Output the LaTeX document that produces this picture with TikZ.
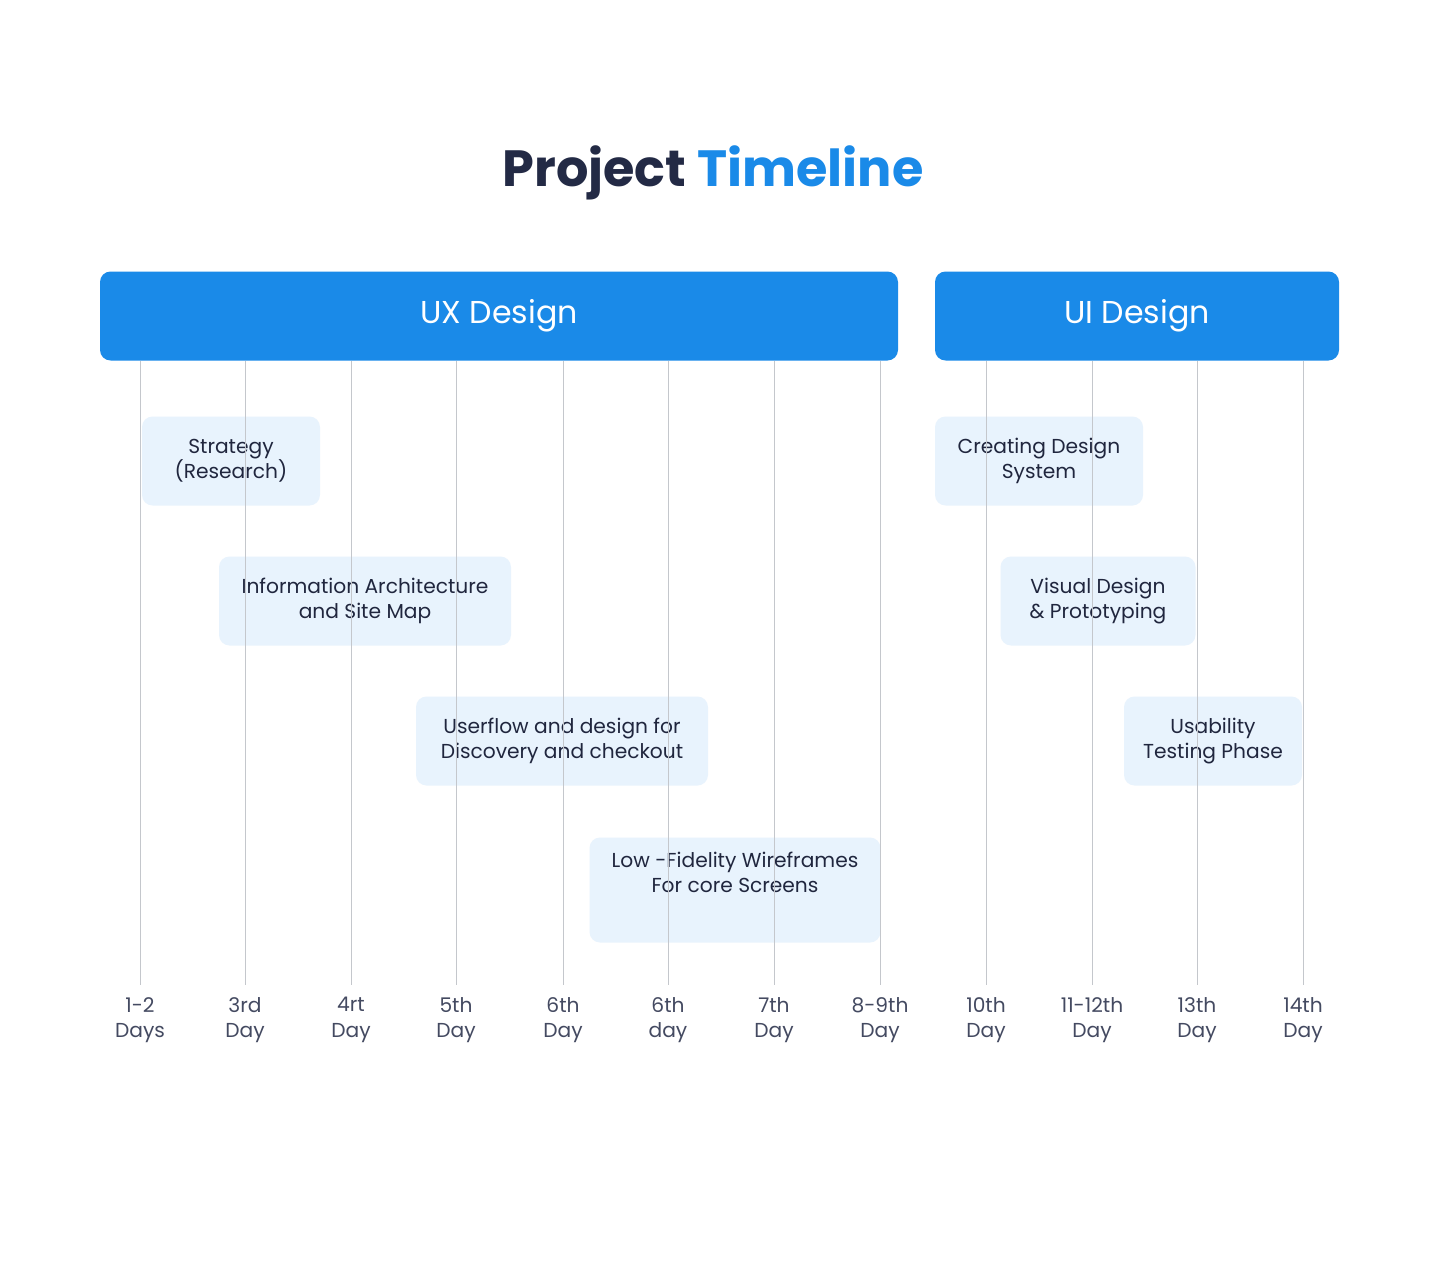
\documentclass[tikz,border=0pt]{standalone}
\usepackage{fontspec}
\setmainfont{Poppins}
\definecolor{navy}{HTML}{232A45}
\definecolor{mainblue}{HTML}{1A8AE8}
\definecolor{paleblue}{HTML}{E8F3FD}
\definecolor{gridgray}{HTML}{C4C7CC}
\begin{document}
\begin{tikzpicture}[x=0.02cm, y=-0.02cm,
barHead/.style={rectangle, fill=mainblue, text=white, rounded corners=6pt, font=\fontsize{18}{20}\selectfont, inner sep=0pt},
taskBox/.style={rectangle, fill=paleblue, text=navy!90!black, rounded corners=6pt, align=center, font=\fontsize{11.5}{14}\selectfont, inner sep=0pt},
dayLabel/.style={text=navy!85, align=center, font=\fontsize{11.5}{14.5}\selectfont, inner sep=0pt, anchor=north},
gridLine/.style={draw=gridgray, line width=0.5pt}
]
\fill[white] (0,0) rectangle (1440,1268);

% Titel
\node[font=\fontsize{29}{32}\selectfont\bfseries] (Title) at (713,173) {\textcolor{navy}{Project} \textcolor{mainblue}{Timeline}};

% Phasen
\node[barHead, minimum width=798*0.02cm, minimum height=89*0.02cm] (UXDesign) at (499,316) {UX Design};
\node[barHead, minimum width=404*0.02cm, minimum height=89*0.02cm] (UIDesign) at (1137,316) {UI Design};

% Aufgaben
\node[taskBox, minimum width=178*0.02cm, minimum height=89*0.02cm] (Strategy) at (231,461) {Strategy\\(Research)};
\node[taskBox, minimum width=292*0.02cm, minimum height=89*0.02cm] (InfoArch) at (365,601) {Information Architecture\\and Site Map};
\node[taskBox, minimum width=292*0.02cm, minimum height=89*0.02cm] (Userflow) at (562,741) {Userflow and design for\\Discovery and checkout};
\node[taskBox, minimum width=291*0.02cm, minimum height=105*0.02cm] (LowFi) at (735,890) {Low -Fidelity Wireframes\\For core Screens\\[6pt]};
\node[taskBox, minimum width=208*0.02cm, minimum height=89*0.02cm] (DesignSystem) at (1039,461) {Creating Design\\System};
\node[taskBox, minimum width=195*0.02cm, minimum height=89*0.02cm] (VisualDesign) at (1098,601) {Visual Design\\\& Prototyping};
\node[taskBox, minimum width=178*0.02cm, minimum height=89*0.02cm] (Usability) at (1213,741) {Usability\\Testing Phase};

% Tage
\foreach \x/\name/\txt in {140/d1/{1-2\\Days}, 245/d2/{3rd\\Day}, 351/d3/{4rt\\Day}, 456/d4/{5th\\Day}, 563/d5/{6th\\Day}, 668/d6/{6th\\day}, 774/d7/{7th\\Day}, 880/d8/{8-9th\\Day}, 986/d9/{10th\\Day}, 1092/d10/{11-12th\\Day}, 1197/d11/{13th\\Day}, 1303/d12/{14th\\Day}}
{
  \coordinate (\name top) at (\x,361);
  \coordinate (\name bot) at (\x,985);
  \node[dayLabel] (\name) at (\x,997) {\txt};
  \draw[gridLine] (\name top) -- (\name bot);
}
\end{tikzpicture}
\end{document}
